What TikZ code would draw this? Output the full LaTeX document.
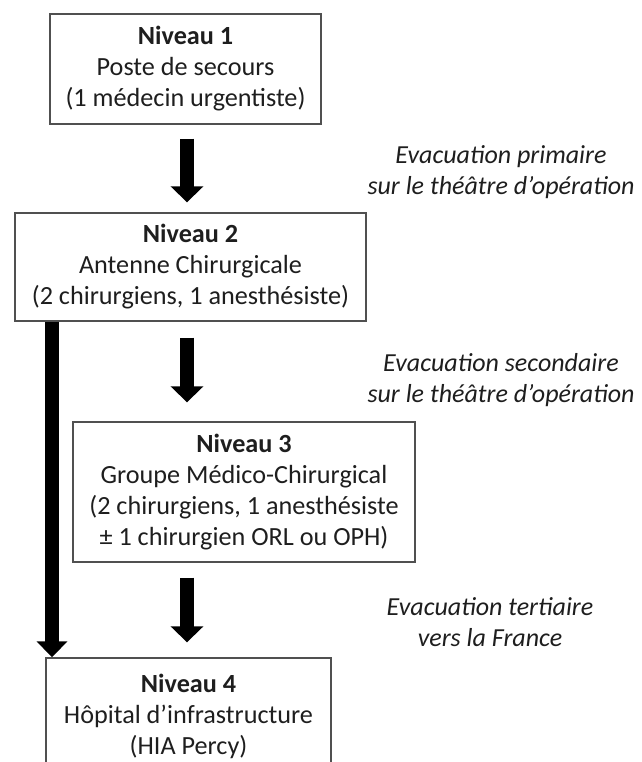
\documentclass[tikz,border=0pt]{standalone}
\usepackage{fontspec}
\setmainfont{Carlito}
\usetikzlibrary{arrows.meta}
\definecolor{boxgray}{HTML}{505050}
\definecolor{textgray}{HTML}{1E1E1E}
\begin{document}
\begin{tikzpicture}[x=1pt,y=-1pt,
  box/.style={draw=boxgray, line width=1.4pt, inner sep=0pt, align=center,
    font=\fontsize{26.2}{31}\selectfont, text=textgray},
  side/.style={align=center, inner sep=0pt, font=\fontsize{26}{31}\selectfont\itshape, text=textgray},
  bigarrow/.style={line width=13.5pt, -{Triangle[width=32pt,length=16pt]}}]
\useasboundingbox (0,0) rectangle (641,762);
\coordinate (ax) at (187,0);
\coordinate (lx) at (52,0);
\node[box, minimum width=271pt, minimum height=110pt] (b1) at (185.5,69)
  {\textbf{Niveau 1}\\Poste de secours\\(1 médecin urgentiste)};
\node[box, minimum width=351pt, minimum height=108pt] (b2) at (190.5,267)
  {\textbf{Niveau 2}\\Antenne Chirurgicale\\(2 chirurgiens, 1 anesthésiste)};
\node[box, minimum width=342pt, minimum height=140pt] (b3) at (244,492)
  {\textbf{Niveau 3}\\Groupe Médico-Chirurgical\\(2 chirurgiens, 1 anesthésiste\\± 1 chirurgien ORL ou OPH)};
\node[box, minimum width=285pt, minimum height=116pt] (b4) at (188.5,716)
  {\textbf{Niveau 4}\\Hôpital d’infrastructure\\(HIA Percy)};
\node[side] (t1) at (501,172) {Evacuation primaire\\sur le théâtre d’opération};
\node[side] (t2) at (501,380) {Evacuation secondaire\\sur le théâtre d’opération};
\node[side] (t3) at (490,622) {Evacuation tertiaire\\vers la France};
\draw[bigarrow, shorten <=14pt, shorten >=10pt] (b1.south -| ax) -- (b2.north -| ax);
\draw[bigarrow, shorten <=16pt, shorten >=19pt] (b2.south -| ax) -- (b3.north -| ax);
\draw[bigarrow, shorten <=15pt, shorten >=15pt] (b3.south -| ax) -- (b4.north -| ax);
\draw[bigarrow, -{Triangle[width=30pt,length=16pt]}] (b2.south -| lx) -- (b4.north -| lx);
\end{tikzpicture}
\end{document}
